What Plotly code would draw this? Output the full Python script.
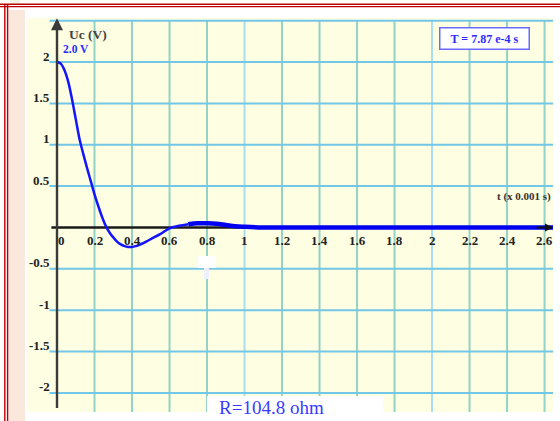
import plotly.graph_objects as go

# ---- data ----
t_early = [0.00, 0.02, 0.04, 0.06, 0.08, 0.10, 0.12, 0.14, 0.16, 0.18, 0.20, 0.22,
           0.24, 0.26, 0.28, 0.30, 0.32, 0.34, 0.36, 0.38, 0.40, 0.42, 0.44, 0.46,
           0.48, 0.50, 0.55, 0.60, 0.65, 0.70]
u_early = [2.00, 1.98, 1.90, 1.76, 1.55, 1.31, 1.07, 0.89, 0.72, 0.56, 0.40, 0.26,
           0.13, 0.02, -0.06, -0.12, -0.17, -0.205, -0.225, -0.235, -0.235, -0.225, -0.21, -0.19,
           -0.165, -0.14, -0.08, -0.01, 0.02, 0.04]
t_late = [0.70, 0.75, 0.80, 0.85, 0.90, 0.95, 1.00, 1.10, 1.50, 2.00, 2.645]
u_late = [0.04, 0.05, 0.05, 0.045, 0.03, 0.015, 0.008, 0.0, 0.0, 0.0, 0.0]

x_ticks = [0, 0.2, 0.4, 0.6, 0.8, 1, 1.2, 1.4, 1.6, 1.8, 2, 2.2, 2.4, 2.6]
x_tick_labels = ["0", "0.2", "0.4", "0.6", "0.8", "1", "1.2", "1.4", "1.6", "1.8",
                 "2", "2.2", "2.4", "2.6"]
y_ticks = [2, 1.5, 1, 0.5, -0.5, -1, -1.5, -2]
y_tick_labels = ["2", "1.5", "1", "0.5", "-0.5", "-1", "-1.5", "-2"]
x_grid = [0.2, 0.4, 0.6, 0.8, 1, 1.2, 1.4, 1.6, 1.8, 2, 2.2, 2.4, 2.6]
y_grid = [2.5, 2, 1.5, 1, 0.5, -0.5, -1, -1.5, -2]

W, H = 560, 421
ML, MR, MT, MB = 27, 7, 18, 9
PW, PH = W - ML - MR, H - MT - MB


def fx(px):
    return (px - ML) / PW


def fy(py):
    return (H - MB - py) / PH


SERIF = "Liberation Serif"

fig = go.Figure()
fig.add_trace(go.Scatter(x=t_early, y=u_early, mode="lines",
                         line=dict(color="#1414ff", width=2.5, shape="spline"),
                         hoverinfo="skip", showlegend=False))
fig.add_trace(go.Scatter(x=t_late, y=u_late, mode="lines",
                         line=dict(color="#0000f0", width=4.5, shape="spline"),
                         hoverinfo="skip", showlegend=False))

shapes = []
# page decorations
shapes.append(dict(type="rect", xref="paper", yref="paper", x0=fx(10), x1=fx(20), y0=fy(0), y1=fy(4),
                   fillcolor="#eef4e2", line=dict(width=0), layer="below"))
shapes.append(dict(type="rect", xref="paper", yref="paper", x0=fx(8.5), x1=fx(25), y0=fy(10), y1=fy(H),
                   fillcolor="#fbe8dd", line=dict(width=0), layer="below"))
for py in (4.3, 6.6):
    shapes.append(dict(type="line", xref="paper", yref="paper", x0=fx(0), x1=fx(W), y0=fy(py), y1=fy(py),
                       line=dict(color="#c00000", width=1.4)))
for px in (4.8, 7.6):
    shapes.append(dict(type="line", xref="paper", yref="paper", x0=fx(px), x1=fx(px), y0=fy(4.3), y1=fy(H),
                       line=dict(color="#c00000", width=1.4)))

# grid
for t in x_grid:
    is_int = abs(t - round(t)) < 1e-9
    shapes.append(dict(type="line", xref="x", yref="y", x0=t, x1=t, y0=-2.3, y1=2.5,
                       line=dict(color="#a9ddef" if is_int else "#93d2c6", width=2), layer="below"))
for v in y_grid:
    shapes.append(dict(type="line", xref="x", yref="y", x0=-0.04, x1=2.7, y0=v, y1=v,
                       line=dict(color="#72c6e8", width=2), layer="below"))
# x axis line
shapes.append(dict(type="line", xref="x", yref="y", x0=-0.03, x1=2.63, y0=0, y1=0,
                   line=dict(color="#1a1a1a", width=2.5), layer="below"))
# artifact patch
shapes.append(dict(type="rect", xref="paper", yref="paper", x0=fx(198), x1=fx(216), y0=fy(268), y1=fy(256),
                   fillcolor="#ffffff", line=dict(width=0)))
shapes.append(dict(type="rect", xref="paper", yref="paper", x0=fx(204), x1=fx(209), y0=fy(279), y1=fy(268),
                   fillcolor="#eef0ff", line=dict(width=0)))
# white box at bottom
shapes.append(dict(type="rect", xref="paper", yref="paper", x0=fx(207), x1=fx(383), y0=fy(H), y1=fy(396),
                   fillcolor="#ffffff", line=dict(width=0)))

annotations = []
# axis arrows
annotations.append(dict(x=0, y=2.53, ax=0, ay=-2.2, xref="x", yref="y", axref="x", ayref="y",
                        showarrow=True, arrowhead=2, arrowsize=1, arrowwidth=2.4, arrowcolor="#3a3a3a",
                        text=""))
annotations.append(dict(x=2.645, y=0, ax=2.55, ay=0, xref="x", yref="y", axref="x", ayref="y",
                        showarrow=True, arrowhead=2, arrowsize=0.8, arrowwidth=2, arrowcolor="#111111",
                        text=""))
# tick labels
tick_font = dict(family=SERIF, size=13, color="#222222")
for t, lab in zip(x_ticks, x_tick_labels):
    annotations.append(dict(x=t, y=0, xref="x", yref="y", text="<b>%s</b>" % lab, showarrow=False,
                            xanchor="center", yanchor="top", yshift=-4, xshift=4 if t == 0 else 0,
                            font=tick_font))
for v, lab in zip(y_ticks, y_tick_labels):
    annotations.append(dict(x=-0.027, y=v, xref="x", yref="y", text="<b>%s</b>" % lab, showarrow=False,
                            xanchor="right", yanchor="middle", yshift=6, font=tick_font))
# texts
annotations.append(dict(x=fx(67), y=fy(35), xref="paper", yref="paper", text="<b>Uc (V)</b>",
                        showarrow=False, xanchor="left", yanchor="middle",
                        font=dict(family=SERIF, size=13.5, color="#444444")))
annotations.append(dict(x=fx(61), y=fy(49), xref="paper", yref="paper", text="<b>2.0 V</b>",
                        showarrow=False, xanchor="left", yanchor="middle",
                        font=dict(family=SERIF, size=11.5, color="#2b2bff")))
annotations.append(dict(x=fx(484), y=fy(38), xref="paper", yref="paper", text="<b>T = 7.87 e-4 s</b>",
                        showarrow=False, xanchor="center", yanchor="middle", width=84, height=16,
                        bgcolor="#ffffff", bordercolor="#6a6aff", borderwidth=1.5, borderpad=2,
                        font=dict(family=SERIF, size=12, color="#2b2bff")))
annotations.append(dict(x=fx(553), y=fy(196), xref="paper", yref="paper", text="<b>t (x 0.001 s)</b>",
                        showarrow=False, xanchor="right", yanchor="middle",
                        font=dict(family=SERIF, size=11, color="#333333")))
annotations.append(dict(x=fx(271), y=fy(407), xref="paper", yref="paper", text="R=104.8 ohm",
                        showarrow=False, xanchor="center", yanchor="middle",
                        font=dict(family=SERIF, size=19, color="#3a3aff")))

fig.update_layout(
    width=W, height=H,
    margin=dict(l=ML, r=MR, t=MT, b=MB, pad=0),
    paper_bgcolor="#ffffff",
    plot_bgcolor="#fefee2",
    xaxis=dict(range=[-0.16, 2.645], showgrid=False, zeroline=False, showticklabels=False,
               showline=False, ticks="", fixedrange=True),
    yaxis=dict(range=[-2.23, 2.532], showgrid=False, zeroline=False, showticklabels=False,
               showline=False, ticks="", fixedrange=True),
    shapes=shapes,
    annotations=annotations,
    showlegend=False,
)

fig.write_html("out.html", config={"displayModeBar": False},
               post_script="document.body.style.margin='0px';document.body.style.overflow='hidden';")
